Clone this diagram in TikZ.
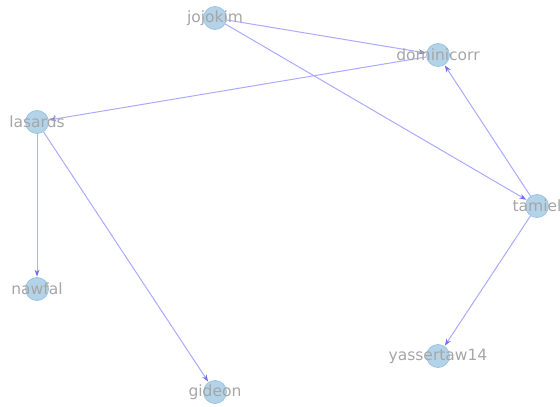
\documentclass[tikz,border=0pt]{standalone}
\usepackage{fontspec}
\setmainfont{DejaVu Sans}
\usetikzlibrary{arrows.meta}
\definecolor{nodefill}{HTML}{B3D3E8}
\definecolor{nodeedge}{HTML}{9CC5E0}
\definecolor{edgecol}{HTML}{AAAAFF}
\definecolor{tipcol}{HTML}{7070F0}
\definecolor{labcol}{HTML}{A6A6A6}
\tikzset{
  vert/.style={circle, fill=nodefill, draw=nodeedge, line width=0.8pt, minimum size=23pt, inner sep=0pt},
  lab/.style={text=labcol, font=\fontsize{15.5pt}{16pt}\selectfont, inner sep=0pt, anchor=center},
  conn/.style={draw=edgecol, line width=1pt, -{Stealth[length=7pt,width=5pt,color=tipcol]}, shorten >=0.5pt}
}
\begin{document}
\begin{tikzpicture}[x=1pt,y=-1pt]
\useasboundingbox (0,0) rectangle (560,407);
\node[vert] (jojokim) at (215,18) {};
\node[vert] (dominicorr) at (438,55) {};
\node[vert] (lasards) at (37,122) {};
\node[vert] (tamiel) at (537,206) {};
\node[vert] (nawfal) at (37,289) {};
\node[vert] (yassertaw14) at (438,356) {};
\node[vert] (gideon) at (215,392) {};
\draw[conn] (jojokim) -- (dominicorr);
\draw[conn] (jojokim) -- (tamiel);
\draw[conn] (dominicorr) -- (lasards);
\draw[conn] (tamiel) -- (dominicorr);
\draw[conn] (tamiel) -- (yassertaw14);
\draw[conn] (lasards) -- (nawfal);
\draw[conn] (lasards) -- (gideon);
\node[lab] (l-jojokim) at (jojokim) {jojokim};
\node[lab] (l-dominicorr) at (dominicorr) {dominicorr};
\node[lab] (l-lasards) at (lasards) {lasards};
\node[lab] (l-tamiel) at (tamiel) {tamiel};
\node[lab] (l-nawfal) at (nawfal) {nawfal};
\node[lab] (l-yassertaw14) at (yassertaw14) {yassertaw14};
\node[lab] (l-gideon) at (gideon) {gideon};
\end{tikzpicture}
\end{document}
